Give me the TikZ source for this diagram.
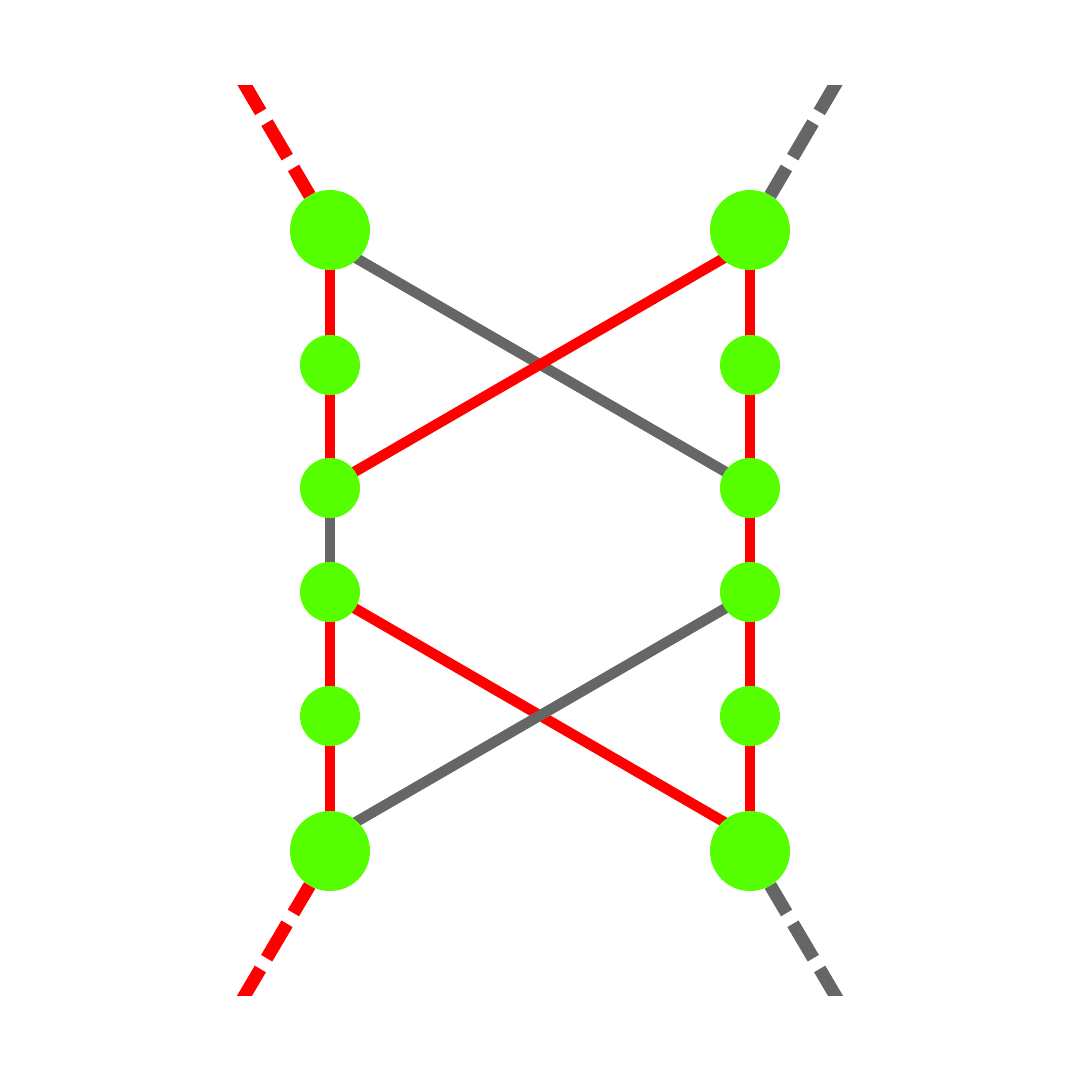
\documentclass[tikz,border=0pt]{standalone}
\usepackage{tikz}
\usetikzlibrary{calc,backgrounds}

\definecolor{nodegreen}{RGB}{85,255,0}
\definecolor{edgegray}{RGB}{102,102,102}

\begin{document}
\begin{tikzpicture}[
  x=0.1mm, y=-0.1mm,
  big/.style={circle, fill=nodegreen, inner sep=0pt, outer sep=0pt, minimum size=8mm},
  small/.style={circle, fill=nodegreen, inner sep=0pt, outer sep=0pt, minimum size=6mm},
  redline/.style={draw=red, line width=1.05mm},
  grayline/.style={draw=edgegray, line width=1.05mm},
  leg/.style={line width=1.3mm, dash pattern=on 4mm off 1.25mm, dash phase=0.8mm}
]
  \useasboundingbox (0,0) rectangle (1080,1080);

  % Left column
  \node[big]   (l1) at (330,230) {};
  \node[small] (l2) at (330,365) {};
  \node[small] (l3) at (330,488) {};
  \node[small] (l4) at (330,592) {};
  \node[small] (l5) at (330,716) {};
  \node[big]   (l6) at (330,851) {};

  % Right column
  \node[big]   (r1) at (750,230) {};
  \node[small] (r2) at (750,365) {};
  \node[small] (r3) at (750,488) {};
  \node[small] (r4) at (750,592) {};
  \node[small] (r5) at (750,716) {};
  \node[big]   (r6) at (750,851) {};

  % Free ends of the outer legs
  \coordinate (tl) at (242,80);
  \coordinate (tr) at (838,80);
  \coordinate (bl) at (242,1000);
  \coordinate (br) at (838,1000);

  \begin{scope}[on background layer]
    % Vertical chains
    \draw[redline] (l1.center) -- (l2.center);
    \draw[redline] (l2.center) -- (l3.center);
    \draw[grayline] (l3.center) -- (l4.center);
    \draw[redline] (l4.center) -- (l5.center);
    \draw[redline] (l5.center) -- (l6.center);
    \draw[redline] (r1.center) -- (r2.center);
    \draw[redline] (r2.center) -- (r3.center);
    \draw[redline] (r3.center) -- (r4.center);
    \draw[redline] (r4.center) -- (r5.center);
    \draw[redline] (r5.center) -- (r6.center);

    % Crossings
    \draw[grayline] ($(l1)+(0,13)$) -- ($(r3)+(0,-2)$);
    \draw[redline] ($(r1)+(0,13)$) -- ($(l3)+(0,-2)$);
    \draw[redline] ($(l4)+(0,2)$) -- ($(r6)+(0,-14)$);
    \draw[grayline] ($(r4)+(0,2)$) -- ($(l6)+(0,-14)$);

    % Dashed legs
    \begin{scope}
      \clip (0,85) rectangle (1080,995);
      \draw[redline, leg] (l1) -- (tl);
      \draw[grayline, leg] (r1) -- (tr);
      \draw[redline, leg] (l6) -- (bl);
      \draw[grayline, leg] (r6) -- (br);
    \end{scope}
  \end{scope}
\end{tikzpicture}
\end{document}
